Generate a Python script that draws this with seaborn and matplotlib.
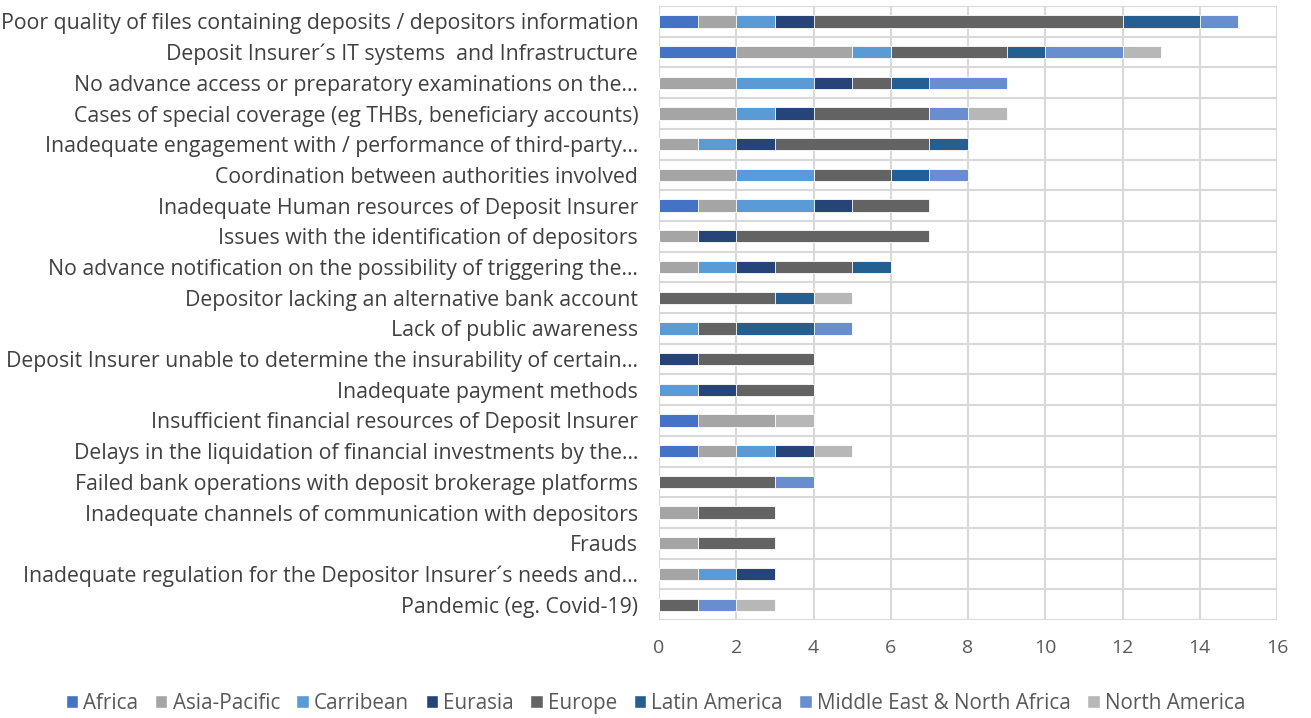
import numpy as np
import pandas as pd
import seaborn as sns
import matplotlib.pyplot as plt
from matplotlib.patches import Patch

# categories (top to bottom)
issues = [
    "Poor quality of files containing deposits / depositors information",
    "Deposit Insurer´s IT systems  and Infrastructure",
    "No advance access or preparatory examinations on the…",
    "Cases of special coverage (eg THBs, beneficiary accounts)",
    "Inadequate engagement with / performance of third-party…",
    "Coordination between authorities involved",
    "Inadequate Human resources of Deposit Insurer",
    "Issues with the identification of depositors",
    "No advance notification on the possibility of triggering the…",
    "Depositor lacking an alternative bank account",
    "Lack of public awareness",
    "Deposit Insurer unable to determine the insurability of certain…",
    "Inadequate payment methods",
    "Insufficient financial resources of Deposit Insurer",
    "Delays in the liquidation of financial investments by the…",
    "Failed bank operations with deposit brokerage platforms",
    "Inadequate channels of communication with depositors",
    "Frauds",
    "Inadequate regulation for the Depositor Insurer´s needs and…",
    "Pandemic (eg. Covid-19)",
]

regions = ["Africa", "Asia-Pacific", "Carribean", "Eurasia", "Europe",
           "Latin America", "Middle East & North Africa", "North America"]

africa        = [1, 2, 0, 0, 0, 0, 1, 0, 0, 0, 0, 0, 0, 1, 1, 0, 0, 0, 0, 0]
asia_pacific  = [1, 3, 2, 2, 1, 2, 1, 1, 1, 0, 0, 0, 0, 2, 1, 0, 1, 1, 1, 0]
carribean     = [1, 1, 2, 1, 1, 2, 2, 0, 1, 0, 1, 0, 1, 0, 1, 0, 0, 0, 1, 0]
eurasia       = [1, 0, 1, 1, 1, 0, 1, 1, 1, 0, 0, 1, 1, 0, 1, 0, 0, 0, 1, 0]
europe        = [8, 3, 1, 3, 4, 2, 2, 5, 2, 3, 1, 3, 2, 0, 0, 3, 2, 2, 0, 1]
latin_america = [2, 1, 1, 0, 1, 1, 0, 0, 1, 1, 2, 0, 0, 0, 0, 0, 0, 0, 0, 0]
mena          = [1, 2, 2, 1, 0, 1, 0, 0, 0, 0, 1, 0, 0, 0, 0, 1, 0, 0, 0, 1]
north_america = [0, 1, 0, 1, 0, 0, 0, 0, 0, 1, 0, 0, 0, 1, 1, 0, 0, 0, 0, 1]

colors = ["#4472C4", "#A5A5A5", "#5B9BD5", "#264478", "#636363",
          "#255E91", "#698ED0", "#B7B7B7"]

df = pd.DataFrame({"issue": issues})
for name, vals in zip(regions, [africa, asia_pacific, carribean, eurasia, europe,
                                latin_america, mena, north_america]):
    df[name] = vals

# cumulative sums so we can overlay bars for a stacked look
cum = df[regions].cumsum(axis=1)

sns.set_style("white")
plt.rcParams['font.family'] = ['Open Sans', 'DejaVu Sans']

fig = plt.figure(figsize=(13.11, 7.18), dpi=100)
ax = fig.add_axes([0.5027, 0.1365, 0.4714, 0.855])

for i in range(len(regions) - 1, -1, -1):
    sns.barplot(x=cum[regions[i]], y=df["issue"], color=colors[i], orient="h",
                width=0.4, saturation=1, edgecolor="white", linewidth=0.6,
                ax=ax, zorder=3)

ax.set_xlim(0, 16)
ax.set_xticks(range(0, 17, 2))
ax.set_ylim(len(issues) - 0.5, -0.5)
ax.set_yticks(np.arange(-0.5, len(issues), 1), minor=True)
ax.grid(which="major", axis="x", color="#D9D9D9", linewidth=1.5, zorder=0)
ax.grid(which="minor", axis="y", color="#D9D9D9", linewidth=1.5, zorder=0)
ax.set_axisbelow(True)
for s in ax.spines.values():
    s.set_visible(False)
ax.tick_params(axis="both", which="both", length=0)
ax.tick_params(axis="y", labelsize=15.3, colors="#404040", pad=15)
ax.tick_params(axis="x", labelsize=14, colors="#595959", pad=14)
ax.set_xlabel("")
ax.set_ylabel("")

handles = [Patch(facecolor=c, label=r) for r, c in zip(regions, colors)]
fig.legend(handles=handles, loc="center", bbox_to_anchor=(0.5, 0.02), ncol=8,
           frameon=False, fontsize=14.9, handlelength=0.6, handleheight=0.6,
           handletextpad=0.25, columnspacing=0.8, labelcolor="#595959")

fig.savefig("out.png", dpi=100)
